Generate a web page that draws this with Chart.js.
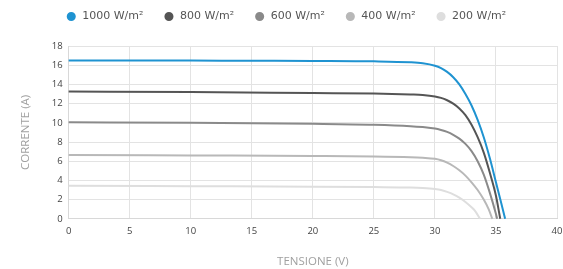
<!DOCTYPE html>
<html>
<head>
<meta charset="utf-8">
<script src="https://cdn.jsdelivr.net/npm/chart.js@4/dist/chart.umd.min.js"></script>
<style>
  html, body { margin: 0; padding: 0; background: #ffffff; }
  #wrap { width: 563px; height: 269px; position: relative; }
</style>
</head>
<body>
<div id="wrap"><canvas id="c" width="563" height="269"></canvas></div>
<script>
const seriesLabels = ["1000 W/m²", "800 W/m²", "600 W/m²", "400 W/m²", "200 W/m²"];
const seriesColors = ["#1f93d1", "#555555", "#8a8a8a", "#b8b8b8", "#dedede"];

const v1000 = [0, 5, 10, 15, 20, 25, 28, 29, 30, 30.5, 31, 31.5, 32, 32.5, 33, 33.5, 34, 34.5, 35, 35.4, 35.75];
const i1000 = [16.5, 16.5, 16.48, 16.46, 16.44, 16.4, 16.3, 16.2, 15.95, 15.7, 15.3, 14.75, 14.0, 13.0, 11.8, 10.3, 8.5, 6.3, 3.8, 1.8, 0];

const v800 = [0, 10, 20, 25, 28, 29, 30, 30.5, 31, 31.5, 32, 32.5, 33, 33.5, 34, 34.5, 35, 35.35];
const i800 = [13.25, 13.2, 13.1, 13.05, 12.95, 12.9, 12.75, 12.6, 12.35, 12.0, 11.5, 10.8, 9.8, 8.5, 6.9, 4.8, 2.4, 0];

const v600 = [0, 10, 20, 25, 28, 29, 30, 30.5, 31, 31.5, 32, 32.5, 33, 33.5, 34, 34.5, 35.0, 35.1];
const i600 = [10.05, 10.0, 9.9, 9.8, 9.65, 9.55, 9.4, 9.25, 9.05, 8.75, 8.35, 7.8, 7.05, 6.0, 4.6, 2.7, 0.5, 0];

const v400 = [0, 10, 20, 25, 28, 29, 30, 30.5, 31, 31.5, 32, 32.5, 33, 33.5, 34, 34.4, 34.7];
const i400 = [6.65, 6.6, 6.55, 6.5, 6.42, 6.36, 6.25, 6.1, 5.85, 5.5, 5.05, 4.5, 3.8, 3.0, 2.0, 1.0, 0];

const v200 = [0, 10, 20, 25, 28, 29, 30, 30.5, 31, 31.5, 32, 32.5, 33, 33.3, 33.7];
const i200 = [3.45, 3.4, 3.35, 3.3, 3.25, 3.2, 3.1, 3.0, 2.8, 2.55, 2.2, 1.75, 1.2, 0.8, 0];

const xTicks = [0, 5, 10, 15, 20, 25, 30, 35, 40];
const yTicks = [0, 2, 4, 6, 8, 10, 12, 14, 16, 18];

const allV = [v1000, v800, v600, v400, v200];
const allI = [i1000, i800, i600, i400, i200];

const datasets = seriesLabels.map((lab, k) => ({
  label: lab,
  data: allV[k].map((v, j) => ({ x: v, y: allI[k][j] })),
  borderColor: seriesColors[k],
  backgroundColor: seriesColors[k],
  borderWidth: 2,
  showLine: true,
  pointRadius: 0,
  pointHoverRadius: 0,
  cubicInterpolationMode: 'monotone',
  fill: false,
  clip: false
})).reverse();

const FONT = "'Open Sans', Lato, sans-serif";

const legendSpace = {
  id: 'legendSpace',
  beforeInit(chart) {
    const lg = chart.legend;
    if (!lg) return;
    const orig = lg.fit;
    lg.fit = function () { orig.call(this); this.height += 14; };
  },
  afterLayout(chart) {
    const lg = chart.legend;
    if (!lg) return;
    lg.left -= 3;
    lg.right -= 3;
  }
};

new Chart(document.getElementById('c'), {
  type: 'scatter',
  data: { datasets },
  plugins: [legendSpace],
  options: {
    responsive: false,
    animation: false,
    devicePixelRatio: 1,
    layout: { padding: { left: 15, right: 0, top: -9, bottom: 0 } },
    plugins: {
      legend: {
        position: 'top',
        reverse: true,
        labels: {
          usePointStyle: true,
          pointStyle: 'circle',
          boxWidth: 11,
          boxHeight: 5,
          padding: 20,
          color: '#555555',
          font: { family: "'DejaVu Sans', sans-serif", size: 11 }
        }
      },
      tooltip: { enabled: false }
    },
    scales: {
      x: {
        type: 'linear',
        min: 0, max: 40,
        afterBuildTicks: (s) => { s.ticks = xTicks.map(v => ({ value: v })); },
        afterFit: (s) => { s.paddingRight = 6; },
        grid: { color: '#e3e3e3', drawTicks: false },
        border: { color: '#d8d8d8' },
        ticks: { color: '#444444', font: { family: FONT, size: 9.5 }, padding: 7 },
        title: { display: true, text: 'TENSIONE (V)', color: '#a0a0a0', font: { family: FONT, size: 11.5 }, padding: { top: 11, bottom: 0 } }
      },
      y: {
        type: 'linear',
        min: 0, max: 18,
        afterBuildTicks: (s) => { s.ticks = yTicks.map(v => ({ value: v })); },
        grid: { color: '#e3e3e3', drawTicks: false },
        border: { color: '#d8d8d8' },
        ticks: { color: '#444444', font: { family: FONT, size: 9.5 }, padding: 6 },
        title: { display: true, text: 'CORRENTE (A)', color: '#a0a0a0', font: { family: FONT, size: 11.5 }, padding: { bottom: 13 } }
      }
    }
  }
});
</script>
</body>
</html>
